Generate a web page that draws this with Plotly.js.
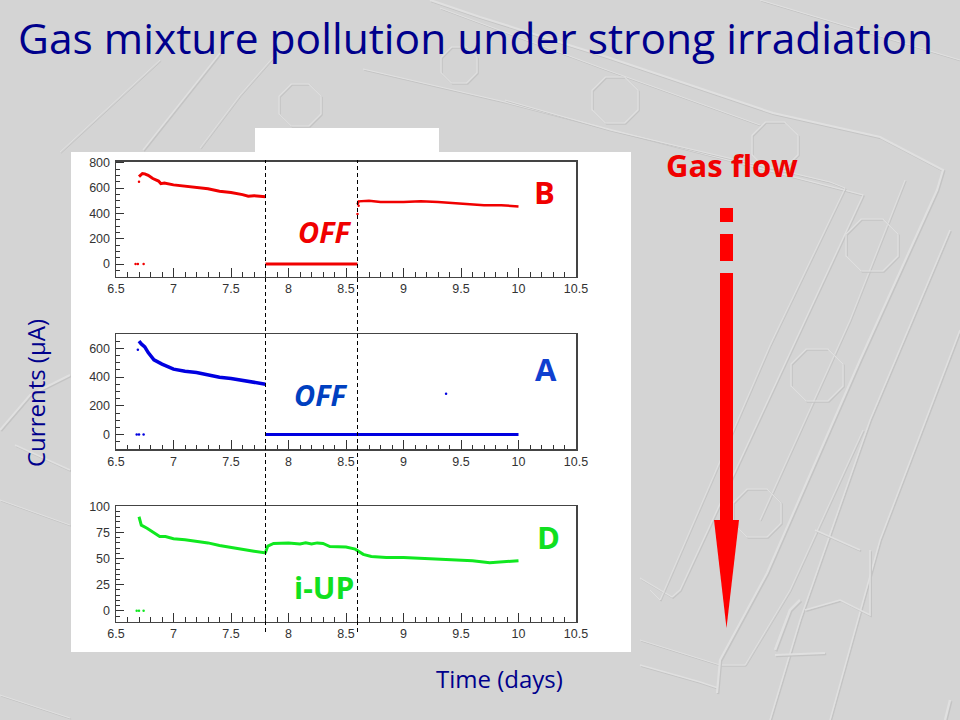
<!DOCTYPE html>
<html><head><meta charset="utf-8">
<script src="https://cdn.plot.ly/plotly-3.0.1.min.js"></script>
<style>html,body{margin:0;padding:0;background:#d4d4d4}</style></head>
<body><div id="c" style="width:960px;height:720px"></div>
<script>
const titleText="Gas mixture pollution under strong irradiation";
const xTickVals=[6.5,7,7.5,8,8.5,9,9.5,10,10.5];
const xTickText=["6.5","7","7.5","8","8.5","9","9.5","10","10.5"];
const bX1=[6.7,6.71,6.73,6.75,6.78,6.82,6.87,6.89,6.92,7.0,7.1,7.2,7.3,7.4,7.5,7.6,7.65,7.7,7.8];
const bY1=[690,700,715,712,700,675,655,635,640,625,615,610,595,575,565,548,535,540,532];
const bXOff=[7.8,8.6];
const bYOff=[0,0];
const bX2=[8.6,8.61,8.7,8.8,9.0,9.15,9.3,9.5,9.7,9.85,10];
const bY2=[470,495,500,490,490,495,490,475,465,465,455];
const bStrayX=[6.67,6.69,6.74,6.7,8.6,8.61];
const bStrayY=[0,0,0,650,395,460];
const aX1=[6.7,6.72,6.75,6.78,6.83,6.9,7.0,7.1,7.2,7.3,7.4,7.5,7.6,7.7,7.8];
const aY1=[650,630,610,570,520,490,455,440,432,415,398,390,375,362,350];
const aXOff=[7.8,10];
const aYOff=[0,0];
const aStrayX=[6.68,6.7,6.74,6.69,9.37];
const aStrayY=[0,0,0,590,283];
const dX=[6.7,6.71,6.72,6.77,6.82,6.88,6.93,7.0,7.1,7.2,7.3,7.4,7.5,7.6,7.7,7.79,7.8,7.82,7.87,8.0,8.1,8.15,8.2,8.25,8.3,8.36,8.5,8.58,8.65,8.72,8.85,9.0,9.2,9.4,9.6,9.75,9.85,10];
const dY=[90,85,82,79,75,71,71,69,68,66.5,65,62.5,60.5,59,57,55.5,56,62,64.5,65,64,65,64,65,64.5,61.5,61,59,54,52,51,51,50,49,48,46,47,48];
const dStrayX=[6.68,6.7,6.74];
const dStrayY=[0,0,0];
const RED='#f00000',BLUE='#0000e0',GREEN='#10e820';
const W=960,H=720;
const px=(v)=>v/W, py=(v)=>1-v/H;
function ax(top,bottom,range,mdt,vals){return {domain:[py(bottom),py(top)],range:range,tickmode:'array',tickvals:vals,ticks:'inside',ticklen:8,tickcolor:'#333',tickwidth:1,
 showgrid:false,zeroline:false,showline:true,linecolor:'#444',linewidth:1.5,mirror:true,ticklabelstandoff:2,tickfont:{family:'Liberation Sans',size:12.5,color:'#333'},
 minor:{dtick:mdt,ticks:'inside',ticklen:4,tickcolor:'#333',tickwidth:1,showgrid:false}};}
function xa(){return {domain:[px(116),px(576)],range:[6.5,10.5],tickmode:'array',tickvals:xTickVals,ticktext:xTickText,ticks:'inside',ticklen:9,tickcolor:'#333',tickwidth:1,
 showgrid:false,zeroline:false,showline:true,linecolor:'#444',linewidth:1.5,mirror:true,tickfont:{family:'Liberation Sans',size:12.5,color:'#333'},
 minor:{dtick:0.1,ticks:'inside',ticklen:4.5,tickcolor:'#333',tickwidth:1,showgrid:false}};}
function ln(x,y,c,xa,ya,w){return {x,y,xaxis:xa,yaxis:ya,mode:'lines',line:{color:c,width:w||3},hoverinfo:'skip',showlegend:false};}
function st(x,y,c,xa,ya){return {x,y,xaxis:xa,yaxis:ya,mode:'markers',marker:{color:c,size:2.5},hoverinfo:'skip',showlegend:false};}
const data=[
 ln(bX1,bY1,RED,'x','y'),ln(bXOff,bYOff,RED,'x','y'),ln(bX2,bY2,RED,'x','y',2.5),st(bStrayX,bStrayY,RED,'x','y'),
 ln(aX1,aY1,BLUE,'x2','y2',3.5),ln(aXOff,aYOff,BLUE,'x2','y2'),st(aStrayX,aStrayY,BLUE,'x2','y2'),
 ln(dX,dY,GREEN,'x3','y3'),st(dStrayX,dStrayY,GREEN,'x3','y3')
];
const yB=ax(161.7,276.7,[-100,808],50,[0,200,400,600,800]);
const yA=ax(334,449,[-100,699],50,[0,200,400,600]);
const yD=ax(506.3,621.7,[-10.4,100],5,[0,25,50,75,100]);
yB.anchor='x';yA.anchor='x2';yD.anchor='x3';
const xB=xa(),xA=xa(),xD=xa();
xB.anchor='y';xA.anchor='y2';xD.anchor='y3';
function P(pts,dx,dy){dx=dx||0;dy=dy||0;return 'M'+pts.map(p=>px(p[0]+dx)+','+py(p[1]+dy)).join(' L');}
const LIGHT='#e0e0e0',DARK='#c4c4c4';
function emboss(pts,w,closed){const z=closed?' Z':'';return [
 {type:'path',xref:'paper',yref:'paper',path:P(pts,1.2,1.2)+z,line:{color:DARK,width:w||1},layer:'below'},
 {type:'path',xref:'paper',yref:'paper',path:P(pts)+z,line:{color:LIGHT,width:w||1},layer:'below'}];}
function octagon(cx,cy,r){const k=r*0.42;return [[cx-k,cy-r],[cx+k,cy-r],[cx+r,cy-k],[cx+r,cy+k],[cx+k,cy+r],[cx-k,cy+r],[cx-r,cy+k],[cx-r,cy-k]];}
const backdrop=[
 [[[363,69],[505,102],[863,195],[680,590],[672,597],[640,578]],1.2],
 [[[505,100],[610,130],[830,182],[845,188],[770,345],[660,600],[650,590]],1],
 [[[640,640],[720,665],[745,665],[790,590],[863,430]],1],
 [[[640,665],[700,682],[718,688]],1.5],
 [[[430,0],[480,17],[607,57],[773,113],[880,137],[943,170],[937,190],[860,360],[767,573],[720,660],[717,693]],2.2],
 [[[440,8],[607,70],[760,125]],1],
 [[[220,53],[143,150]],1.5],
 [[[275,55],[240,95],[200,148]],1],
 [[[160,60],[60,152]],1],
 [[[70,375],[30,395],[0,430]],2],
 [[[15,445],[70,470]],1.5],
 [[[0,500],[70,525]],1],
 [[[0,695],[70,718]],1],
 [[[905,180],[850,320],[760,520]],1],
 [[[950,230],[870,420],[800,620],[770,720]],1.5],
 [[[960,330],[880,540],[830,720]],1.5],
 [[[805,610],[840,600],[870,615],[870,550]],1.5],
 [[[775,650],[790,610],[800,600]],2.5],
 [[[775,655],[825,653]],2],
 [[[815,530],[860,550]],1.5],
 [[[950,700],[945,720]],2.5],
 [[[760,0],[960,60]],1]
];
const bolts=[[300,105,21],[459,65,18],[615,100,23],[775,145,23],[872,245,26],[817,375,26],[757,513,24]];
const decor=[];
backdrop.forEach(b=>decor.push(...emboss(b[0],b[1])));
bolts.forEach(b=>decor.push(...emboss(octagon(b[0],b[1],b[2]),1.2,true)));
const shapes=[
 ...decor,
 {type:'rect',xref:'paper',yref:'paper',x0:px(71),x1:px(631),y0:py(652),y1:py(152),fillcolor:'#fff',line:{width:0},layer:'below'},
 {type:'rect',xref:'paper',yref:'paper',x0:px(255),x1:px(439),y0:py(153),y1:py(128),fillcolor:'#fff',line:{width:0},layer:'below'},
 {type:'line',xref:'x',yref:'paper',x0:7.8,x1:7.8,y0:py(632),y1:py(160),line:{color:'#000',width:1,dash:'4px,3px'}},
 {type:'line',xref:'x',yref:'paper',x0:8.6,x1:8.6,y0:py(632),y1:py(160),line:{color:'#000',width:1,dash:'4px,3px'}},
 {type:'rect',xref:'paper',yref:'paper',x0:px(720),x1:px(733),y0:py(222),y1:py(208),fillcolor:'#f00',line:{width:0}},
 {type:'rect',xref:'paper',yref:'paper',x0:px(720),x1:px(733),y0:py(261),y1:py(234),fillcolor:'#f00',line:{width:0}},
 {type:'rect',xref:'paper',yref:'paper',x0:px(720),x1:px(733),y0:py(521),y1:py(273),fillcolor:'#f00',line:{width:0}},
 {type:'path',xref:'paper',yref:'paper',path:P([[714,520],[739,520],[726.5,628]])+' Z',fillcolor:'#f00',line:{width:0}}
];
const FONT='"Open Sans"';
function note(text,x,y,size,color,extra){return Object.assign({text,xref:'paper',yref:'paper',x:px(x),y:py(y),xanchor:'center',yanchor:'middle',showarrow:false,font:{family:FONT,size:size,color:color}},extra||{});}
const annotations=[
 note(titleText,475,37,42.5,'#00008c'),
 note('<b>Gas flow</b>',732,165,31,'#f00000'),
 note('<b>B</b>',544,192,31,'#f00000'),
 note('<b>A</b>',546,369,31,'#1040d0'),
 note('<b>D</b>',548,537,31,'#10e020'),
 note('<b><i>OFF</i></b>',325,232,29,'#f00000'),
 note('<b><i>OFF</i></b>',321,394,29,'#0040c0'),
 note('<b>i-UP</b>',324,587,30,'#10e020'),
 note('Time (days)',499,678,24,'#00008c'),
 note('Currents (\u00b5A)',36,393,24,'#00008c',{textangle:-90})
];
Plotly.newPlot('c',data,{width:W,height:H,margin:{l:0,r:0,t:0,b:0},paper_bgcolor:'#d4d4d4',plot_bgcolor:'rgba(0,0,0,0)',showlegend:false,
 xaxis:xB,yaxis:yB,xaxis2:xA,yaxis2:yA,xaxis3:xD,yaxis3:yD,shapes,annotations},{displayModeBar:false,staticPlot:true});
</script></body></html>
